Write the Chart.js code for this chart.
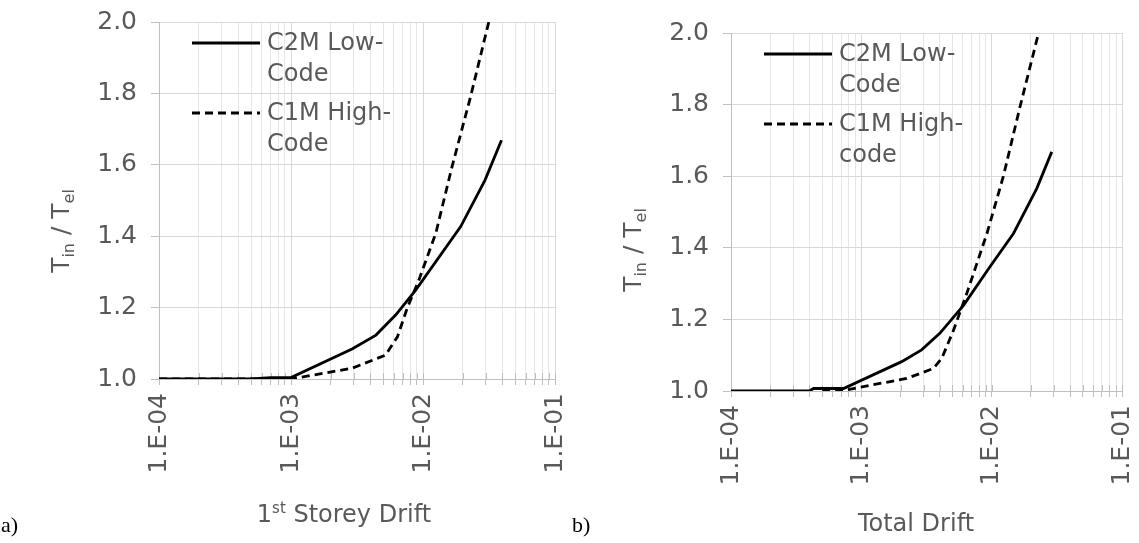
<!DOCTYPE html>
<html>
<head>
<meta charset="utf-8">
<script src="https://cdn.jsdelivr.net/npm/chart.js@4.4.1/dist/chart.umd.min.js"></script>
<style>
  body { margin: 0; background: #fff; width: 1139px; height: 543px; overflow: hidden; position: relative; }
  canvas { position: absolute; top: 0; }
  .tag { position: absolute; font-family: "Liberation Serif", serif; font-size: 22px; color: #000; }
</style>
</head>
<body>
<canvas id="chartA" width="570" height="543" style="left:0"></canvas>
<canvas id="chartB" width="569" height="543" style="left:570px"></canvas>
<div class="tag" style="left:1px; top:512px">a)</div>
<div class="tag" style="left:572px; top:512px">b)</div>
<script>
// series labels
const seriesNames = [['C2M Low-', 'Code'], ['C1M High-', 'Code']];
const seriesNamesB = [['C2M Low-', 'Code'], ['C1M High-', 'code']];

// a) 1st storey drift
const aLowX  = [1e-4, 5e-4, 7e-4, 1e-3, 2.9e-3, 4.4e-3, 6.2e-3, 8.8e-3, 1.93e-2, 2.95e-2, 3.93e-2];
const aLowY  = [1.0, 1.0, 1.004, 1.004, 1.084, 1.123, 1.179, 1.249, 1.427, 1.557, 1.669];
const aHighX = [1e-4, 1e-3, 2.9e-3, 5.2e-3, 6.4e-3, 7.6e-3, 9.3e-3, 1.25e-2, 1.66e-2, 2.29e-2, 3.15e-2];
const aHighY = [1.0, 1.0, 1.03, 1.067, 1.118, 1.199, 1.277, 1.408, 1.595, 1.79, 2.0];

// b) total drift
const bLowX  = [1e-4, 4.0e-4, 4.3e-4, 7.3e-4, 2.04e-3, 2.9e-3, 4.0e-3, 6.1e-3, 9.7e-3, 1.47e-2, 2.22e-2, 2.89e-2];
const bLowY  = [1.0, 1.0, 1.007, 1.007, 1.082, 1.115, 1.161, 1.24, 1.347, 1.44, 1.566, 1.668];
const bHighX = [5e-4, 7e-4, 1.39e-3, 2.23e-3, 3.57e-3, 4.14e-3, 5.1e-3, 6.45e-3, 9.2e-3, 1.23e-2, 1.65e-2, 2.29e-2];
const bHighY = [1.0, 1.0, 1.021, 1.035, 1.063, 1.091, 1.17, 1.273, 1.44, 1.60, 1.794, 2.0];

// axis ticks
const xDecades = [1e-4, 1e-3, 1e-2, 1e-1];
const xTickLabels = ['1.E-04', '1.E-03', '1.E-02', '1.E-01'];
const yTicks = [1.0, 1.2, 1.4, 1.6, 1.8, 2.0];

const GREY = '#595959';
const FONT = '"DejaVu Sans", Verdana, sans-serif';

function pts(xs, ys) {
  return xs.map((x, i) => ({ x: x, y: ys[i] }));
}

function isDecade(v) {
  const l = Math.log10(v);
  return Math.abs(l - Math.round(l)) < 1e-9;
}

// titles (with sub/superscripts), legend and the inner half of the x tick marks
const decorPlugin = {
  id: 'decor',
  beforeDatasetsDraw(chart) {
    const ctx = chart.ctx;
    const xs = chart.scales.x;
    const y0 = chart.chartArea.bottom;
    ctx.save();
    ctx.strokeStyle = '#bfbfbf';
    ctx.lineWidth = 1;
    xs.ticks.forEach(t => {
      const px = Math.round(xs.getPixelForValue(t.value)) + 0.5;
      ctx.beginPath();
      ctx.moveTo(px, y0 - 6);
      ctx.lineTo(px, y0);
      ctx.stroke();
    });
    ctx.restore();
  },
  afterDraw(chart, args, opts) {
    const ctx = chart.ctx;
    const area = chart.chartArea;
    ctx.save();
    ctx.fillStyle = GREY;
    ctx.textBaseline = 'alphabetic';

    // y title: T_in / T_el, rotated
    ctx.save();
    ctx.translate(opts.yTitle[0], opts.yTitle[1]);
    ctx.rotate(-Math.PI / 2);
    const big = '25px ' + FONT, small = '16px ' + FONT;
    const parts = [['T', big, 0], ['in', small, 5], [' / T', big, 0], ['el', small, 5]];
    let w = 0;
    parts.forEach(p => { ctx.font = p[1]; w += ctx.measureText(p[0]).width; });
    let x = -w / 2;
    parts.forEach(p => {
      ctx.font = p[1];
      ctx.fillText(p[0], x, 9 + p[2]);
      x += ctx.measureText(p[0]).width;
    });
    ctx.restore();

    // x title
    const xp = opts.xTitle.parts;
    let tw = 0;
    xp.forEach(p => { ctx.font = p[1] + 'px ' + FONT; tw += ctx.measureText(p[0]).width; });
    let tx = opts.xTitle.x - tw / 2;
    xp.forEach(p => {
      ctx.font = p[1] + 'px ' + FONT;
      ctx.fillText(p[0], tx, opts.xTitle.y + p[2]);
      tx += ctx.measureText(p[0]).width;
    });

    // legend
    const lx = area.left + 33, ly = area.top + 21;
    chart.data.datasets.forEach((ds, i) => {
      const y0 = ly + i * 70;
      ctx.strokeStyle = ds.borderColor;
      ctx.lineWidth = ds.borderWidth;
      ctx.setLineDash(ds.borderDash || []);
      ctx.beginPath();
      ctx.moveTo(lx, y0);
      ctx.lineTo(lx + 68, y0);
      ctx.stroke();
      ctx.setLineDash([]);
      ctx.font = '24px ' + FONT;
      ctx.fillStyle = GREY;
      ctx.textBaseline = 'middle';
      opts.names[i].forEach((line, j) => ctx.fillText(line, lx + 75, y0 + 1 + j * 31));
    });
    ctx.restore();
  }
};

function makeChart(id, low, high, cfg) {
  return new Chart(document.getElementById(id), {
    type: 'line',
    data: {
      datasets: [
        { label: cfg.names[0].join(''), data: low, borderColor: '#000', borderWidth: 2.8, pointRadius: 0, tension: 0 },
        { label: cfg.names[1].join(''), data: high, borderColor: '#000', borderWidth: 2.8, borderDash: [8, 5], pointRadius: 0, tension: 0 }
      ]
    },
    options: {
      responsive: false,
      animation: false,
      layout: { padding: { top: cfg.top, right: cfg.right, left: 0, bottom: 0 } },
      plugins: {
        legend: { display: false },
        tooltip: { enabled: false },
        decor: cfg
      },
      scales: {
        x: {
          type: 'logarithmic',
          min: 1e-4,
          max: 1e-1,
          afterBuildTicks: (scale) => {
            const t = [];
            xDecades.forEach((d, i) => {
              const n = i < xDecades.length - 1 ? 9 : 1;
              for (let k = 1; k <= n; k++) t.push({ value: d * k });
            });
            scale.ticks = t;
          },
          afterFit: (scale) => {
            scale.height = cfg.xh;
            scale.paddingLeft = 0;
            scale.paddingRight = 0;
          },
          border: { color: '#bfbfbf', width: 1 },
          grid: {
            color: (c) => isDecade(c.tick.value) ? '#d9d9d9' : '#e6e6e6',
            tickColor: '#bfbfbf',
            tickLength: 6
          },
          ticks: {
            autoSkip: false,
            minRotation: 90,
            maxRotation: 90,
            padding: 8,
            color: GREY,
            font: { family: FONT, size: 25 },
            callback: (v) => {
              const i = xDecades.findIndex(d => Math.abs(d - v) / d < 1e-9);
              return i >= 0 ? xTickLabels[i] : '';
            }
          }
        },
        y: {
          min: 1.0,
          max: 2.0,
          afterBuildTicks: (scale) => { scale.ticks = yTicks.map(v => ({ value: v })); },
          afterFit: (scale) => {
            scale.width = cfg.yw;
            scale.paddingTop = 0;
            scale.paddingBottom = 0;
          },
          border: { color: '#bfbfbf', width: 1 },
          grid: { color: '#d9d9d9', tickColor: '#bfbfbf', tickLength: 8 },
          ticks: {
            padding: 14,
            color: GREY,
            font: { family: FONT, size: 25 },
            callback: (v) => Number(v).toFixed(1)
          }
        }
      }
    },
    plugins: [decorPlugin]
  });
}

makeChart('chartA', pts(aLowX, aLowY), pts(aHighX, aHighY), {
  top: 22, right: 15, xh: 164, yw: 159,
  names: seriesNames,
  yTitle: [60, 231],
  xTitle: { x: 344, y: 522, parts: [['1', 24, 0], ['st', 15, -9], [' Storey Drift', 24, 0]] }
});

makeChart('chartB', pts(bLowX, bLowY), pts(bHighX, bHighY), {
  top: 33, right: 17, xh: 152, yw: 161,
  names: seriesNamesB,
  yTitle: [62, 250],
  xTitle: { x: 346, y: 531, parts: [['Total Drift', 24, 0]] }
});
</script>
</body>
</html>
